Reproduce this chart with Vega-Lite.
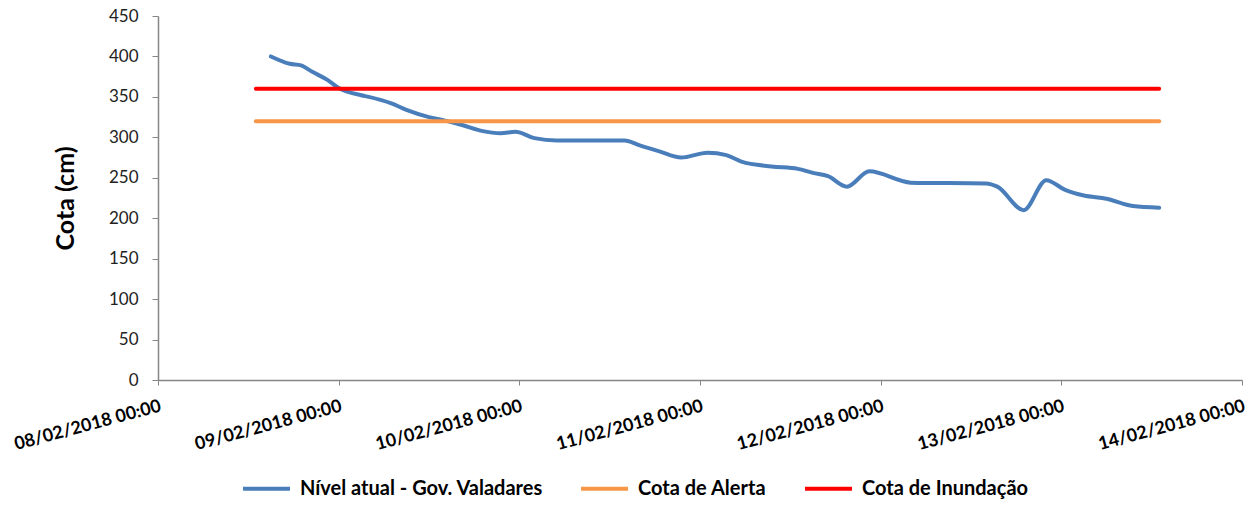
{
  "$schema": "https://vega.github.io/schema/vega-lite/v6.json",
  "width": 1084,
  "height": 364,
  "autosize": {"type": "none"},
  "padding": {"left": 158, "top": 16, "right": 13, "bottom": 126},
  "background": "white",
  "config": {
    "view": {"stroke": null},
    "font": "Lato"
  },
  "data": {
    "values": [
      {"t": "2018-02-08T15:00:00", "v": 400, "serie": "Nível atual - Gov. Valadares"},
      {"t": "2018-02-08T17:30:00", "v": 391, "serie": "Nível atual - Gov. Valadares"},
      {"t": "2018-02-08T19:00:00", "v": 389, "serie": "Nível atual - Gov. Valadares"},
      {"t": "2018-02-08T20:30:00", "v": 381, "serie": "Nível atual - Gov. Valadares"},
      {"t": "2018-02-08T22:30:00", "v": 371, "serie": "Nível atual - Gov. Valadares"},
      {"t": "2018-02-09T00:00:00", "v": 361, "serie": "Nível atual - Gov. Valadares"},
      {"t": "2018-02-09T03:00:00", "v": 352, "serie": "Nível atual - Gov. Valadares"},
      {"t": "2018-02-09T04:00:00", "v": 350, "serie": "Nível atual - Gov. Valadares"},
      {"t": "2018-02-09T07:00:00", "v": 342, "serie": "Nível atual - Gov. Valadares"},
      {"t": "2018-02-09T09:00:00", "v": 334, "serie": "Nível atual - Gov. Valadares"},
      {"t": "2018-02-09T12:00:00", "v": 325, "serie": "Nível atual - Gov. Valadares"},
      {"t": "2018-02-09T14:00:00", "v": 321, "serie": "Nível atual - Gov. Valadares"},
      {"t": "2018-02-09T16:30:00", "v": 315, "serie": "Nível atual - Gov. Valadares"},
      {"t": "2018-02-09T19:00:00", "v": 308, "serie": "Nível atual - Gov. Valadares"},
      {"t": "2018-02-09T21:30:00", "v": 305, "serie": "Nível atual - Gov. Valadares"},
      {"t": "2018-02-09T23:30:00", "v": 307, "serie": "Nível atual - Gov. Valadares"},
      {"t": "2018-02-10T02:00:00", "v": 299, "serie": "Nível atual - Gov. Valadares"},
      {"t": "2018-02-10T05:00:00", "v": 296, "serie": "Nível atual - Gov. Valadares"},
      {"t": "2018-02-10T14:00:00", "v": 296, "serie": "Nível atual - Gov. Valadares"},
      {"t": "2018-02-10T16:00:00", "v": 290, "serie": "Nível atual - Gov. Valadares"},
      {"t": "2018-02-10T18:30:00", "v": 283, "serie": "Nível atual - Gov. Valadares"},
      {"t": "2018-02-10T21:30:00", "v": 275, "serie": "Nível atual - Gov. Valadares"},
      {"t": "2018-02-11T01:00:00", "v": 281, "serie": "Nível atual - Gov. Valadares"},
      {"t": "2018-02-11T03:30:00", "v": 278, "serie": "Nível atual - Gov. Valadares"},
      {"t": "2018-02-11T05:30:00", "v": 270, "serie": "Nível atual - Gov. Valadares"},
      {"t": "2018-02-11T09:30:00", "v": 264, "serie": "Nível atual - Gov. Valadares"},
      {"t": "2018-02-11T13:00:00", "v": 261, "serie": "Nível atual - Gov. Valadares"},
      {"t": "2018-02-11T15:00:00", "v": 256, "serie": "Nível atual - Gov. Valadares"},
      {"t": "2018-02-11T17:00:00", "v": 252, "serie": "Nível atual - Gov. Valadares"},
      {"t": "2018-02-11T19:30:00", "v": 239, "serie": "Nível atual - Gov. Valadares"},
      {"t": "2018-02-11T22:30:00", "v": 258, "serie": "Nível atual - Gov. Valadares"},
      {"t": "2018-02-12T04:00:00", "v": 244, "serie": "Nível atual - Gov. Valadares"},
      {"t": "2018-02-12T14:00:00", "v": 243, "serie": "Nível atual - Gov. Valadares"},
      {"t": "2018-02-12T15:30:00", "v": 239, "serie": "Nível atual - Gov. Valadares"},
      {"t": "2018-02-12T19:00:00", "v": 210, "serie": "Nível atual - Gov. Valadares"},
      {"t": "2018-02-12T22:00:00", "v": 247, "serie": "Nível atual - Gov. Valadares"},
      {"t": "2018-02-13T00:30:00", "v": 235, "serie": "Nível atual - Gov. Valadares"},
      {"t": "2018-02-13T03:00:00", "v": 228, "serie": "Nível atual - Gov. Valadares"},
      {"t": "2018-02-13T06:00:00", "v": 224, "serie": "Nível atual - Gov. Valadares"},
      {"t": "2018-02-13T09:30:00", "v": 215, "serie": "Nível atual - Gov. Valadares"},
      {"t": "2018-02-13T13:00:00", "v": 213, "serie": "Nível atual - Gov. Valadares"},
      {"t": "2018-02-08T13:00:00", "v": 320, "serie": "Cota de Alerta"},
      {"t": "2018-02-13T13:00:00", "v": 320, "serie": "Cota de Alerta"},
      {"t": "2018-02-08T13:00:00", "v": 360, "serie": "Cota de Inundação"},
      {"t": "2018-02-13T13:00:00", "v": 360, "serie": "Cota de Inundação"}
    ]
  },
  "mark": {"type": "line", "interpolate": "monotone", "strokeWidth": 4, "strokeCap": "round"},
  "encoding": {
    "x": {
      "field": "t",
      "type": "temporal",
      "scale": {"domain": [{"year": 2018, "month": 2, "date": 8}, {"year": 2018, "month": 2, "date": 14}]},
      "axis": {
        "title": null,
        "grid": false,
        "format": "%d/%m/%Y %H:%M",
        "values": [
          {"year": 2018, "month": 2, "date": 8},
          {"year": 2018, "month": 2, "date": 9},
          {"year": 2018, "month": 2, "date": 10},
          {"year": 2018, "month": 2, "date": 11},
          {"year": 2018, "month": 2, "date": 12},
          {"year": 2018, "month": 2, "date": 13},
          {"year": 2018, "month": 2, "date": 14}
        ],
        "labelAngle": -15,
        "labelAlign": "right",
        "labelBaseline": "top",
        "labelPadding": 12,
        "labelFontSize": 18,
        "labelFontWeight": "bold",
        "labelColor": "#000000",
        "labelFlush": false,
        "labelOverlap": false,
        "domainColor": "#868686",
        "domainWidth": 1.5,
        "tickColor": "#868686",
        "tickSize": 5
      }
    },
    "y": {
      "field": "v",
      "type": "quantitative",
      "scale": {"domain": [0, 450], "nice": false},
      "axis": {
        "title": "Cota (cm)",
        "titleFontSize": 25,
        "titleFontWeight": "bold",
        "titleColor": "#000000",
        "titlePadding": 30,
        "grid": false,
        "values": [0, 50, 100, 150, 200, 250, 300, 350, 400, 450],
        "labelFontSize": 17,
        "labelColor": "#222222",
        "labelPadding": 14,
        "domainColor": "#868686",
        "domainWidth": 1.5,
        "tickColor": "#868686",
        "tickSize": 6
      }
    },
    "color": {
      "field": "serie",
      "type": "nominal",
      "scale": {
        "domain": ["Nível atual - Gov. Valadares", "Cota de Alerta", "Cota de Inundação"],
        "range": ["#4a7ebb", "#f79646", "#ff0000"]
      },
      "legend": {
        "title": null,
        "orient": "none",
        "direction": "horizontal",
        "legendX": 83,
        "legendY": 447,
        "symbolType": "stroke",
        "symbolSize": 2209,
        "symbolStrokeWidth": 4,
        "labelFontSize": 20,
        "labelFontWeight": "bold",
        "labelColor": "#000000",
        "labelOffset": 8,
        "columnPadding": 30,
        "labelLimit": 400
      }
    }
  }
}
